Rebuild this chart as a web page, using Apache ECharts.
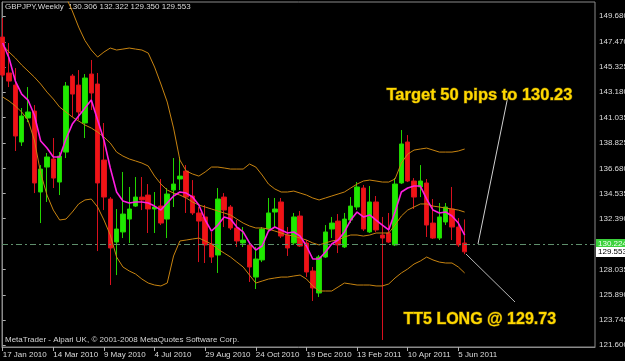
<!DOCTYPE html>
<html><head><meta charset="utf-8">
<script src="https://cdn.jsdelivr.net/npm/echarts@6/dist/echarts.min.js"></script>
<style>html,body{margin:0;padding:0;background:#000;}#c{width:625px;height:361px;}</style>
</head><body><div id="c"></div>
<script>
// ---- data ----
const dates = ['17 Jan 2010','24 Jan 2010','31 Jan 2010','7 Feb 2010','14 Feb 2010','21 Feb 2010','28 Feb 2010','7 Mar 2010','14 Mar 2010','21 Mar 2010','28 Mar 2010','4 Apr 2010','11 Apr 2010','18 Apr 2010','25 Apr 2010','2 May 2010','9 May 2010','16 May 2010','23 May 2010','30 May 2010','6 Jun 2010','13 Jun 2010','20 Jun 2010','27 Jun 2010','4 Jul 2010','11 Jul 2010','18 Jul 2010','25 Jul 2010','1 Aug 2010','8 Aug 2010','15 Aug 2010','22 Aug 2010','29 Aug 2010','5 Sep 2010','12 Sep 2010','19 Sep 2010','26 Sep 2010','3 Oct 2010','10 Oct 2010','17 Oct 2010','24 Oct 2010','31 Oct 2010','7 Nov 2010','14 Nov 2010','21 Nov 2010','28 Nov 2010','5 Dec 2010','12 Dec 2010','19 Dec 2010','26 Dec 2010','2 Jan 2011','9 Jan 2011','16 Jan 2011','23 Jan 2011','30 Jan 2011','6 Feb 2011','13 Feb 2011','20 Feb 2011','27 Feb 2011','6 Mar 2011','13 Mar 2011','20 Mar 2011','27 Mar 2011','3 Apr 2011','10 Apr 2011','17 Apr 2011','24 Apr 2011','1 May 2011','8 May 2011','15 May 2011','22 May 2011','29 May 2011','5 Jun 2011','12 Jun 2011'];
const opens  = [147.89,144.82,143.79,138.93,140.98,141.57,134.66,136.79,137.48,135.51,138.07,144.56,143.79,140.55,144.73,143.88,137.39,134.06,130.39,131.25,132.35,133.46,134.23,134.40,133.21,133.46,132.35,134.83,135.77,136.45,134.32,132.87,132.53,130.22,129.28,134.23,133.38,131.59,130.31,130.14,127.40,128.86,131.50,132.95,133.81,130.99,130.31,132.61,130.31,127.92,126.04,129.11,131.50,132.18,129.97,132.27,133.38,135.00,131.25,133.81,130.99,131.16,130.14,135.43,138.93,135.60,135.09,135.43,132.01,130.73,132.10,133.21,131.67,130.306];
const highs  = [149.51,147.38,145.24,141.83,143.62,142.08,136.96,137.99,139.27,138.07,144.05,144.73,145.07,144.73,145.93,144.82,140.55,134.23,133.21,136.37,135.09,135.94,135.94,135.34,134.66,135.77,135.00,137.56,137.65,136.96,135.68,133.38,133.55,131.25,135.00,134.57,133.55,132.27,131.67,130.31,129.97,131.67,134.15,134.15,134.15,131.67,132.87,133.04,130.56,128.26,129.28,131.84,132.53,132.78,132.87,134.23,135.51,135.26,135.17,134.32,132.53,132.87,135.85,139.95,139.52,135.85,136.96,135.77,134.06,133.72,133.72,135.09,132.44,132.322];
const lows   = [144.47,143.62,138.16,138.59,140.63,134.57,132.01,133.81,135.00,134.40,137.56,141.06,140.80,139.27,141.66,129.62,133.12,126.72,127.57,130.73,130.31,133.38,133.12,131.16,131.16,131.84,130.73,133.38,134.83,132.87,132.70,128.68,128.60,128.60,127.75,131.67,131.42,129.97,129.97,126.98,126.38,128.68,131.42,131.67,130.73,129.20,130.14,129.97,127.40,125.36,125.70,129.03,130.73,129.45,129.88,132.01,133.12,131.33,131.16,131.25,122.03,130.31,130.05,135.34,135.51,133.21,134.23,130.82,130.65,130.56,131.84,130.56,129.97,129.350];
const closes = [144.64,144.13,139.44,141.15,141.49,135.43,136.62,137.65,135.85,137.73,143.71,143.02,141.49,144.39,143.11,135.43,134.23,129.88,131.50,132.78,133.21,134.23,133.98,133.21,133.38,132.01,134.49,135.34,136.02,134.23,132.87,132.18,130.14,129.11,134.06,133.12,131.59,130.48,130.56,128.26,128.94,131.50,132.87,133.21,130.90,129.88,132.53,130.05,127.83,126.47,129.11,131.25,132.01,130.14,132.35,133.46,135.09,131.50,133.81,131.42,130.73,130.39,135.34,138.76,135.60,134.23,135.60,131.84,130.73,132.53,133.38,131.67,130.14,129.553];
const maValues = [147.38,146.10,144.13,143.02,142.51,141.23,139.01,138.41,137.65,137.65,139.18,140.46,141.15,141.83,142.51,140.80,139.10,136.71,134.66,133.89,133.72,133.81,133.81,133.72,133.46,133.12,133.72,134.32,134.66,134.57,134.23,133.55,132.27,131.33,131.84,132.53,132.35,131.67,131.25,130.31,129.71,130.05,131.33,131.67,131.42,131.16,131.25,130.90,130.05,128.94,128.94,129.54,130.22,130.56,131.25,132.27,132.95,132.53,132.70,132.27,131.84,131.42,132.95,134.66,135.00,135.17,135.17,134.06,133.12,132.87,132.95,132.61,132.01,130.99];
const bbUpper = [null,null,null,null,null,null,null,null,null,null,151.30,150.11,148.74,147.59,146.78,146.18,146.61,146.95,146.78,146.86,146.95,146.86,146.78,146.52,145.33,143.88,142.34,140.12,137.39,136.45,136.20,136.02,136.37,136.79,136.79,136.71,136.62,136.62,136.62,137.05,136.79,136.11,135.34,134.92,134.66,134.66,134.74,134.57,134.40,134.15,133.98,134.15,134.32,134.49,134.66,135.00,135.34,135.60,135.68,135.60,135.51,135.51,135.77,137.13,137.90,138.24,138.33,138.41,138.24,138.07,138.07,138.07,138.16,138.33];
const bbMiddle = [147.21,146.61,146.10,145.50,144.99,144.47,143.88,143.19,142.60,141.91,141.49,141.06,140.72,140.38,140.12,139.78,139.35,138.84,138.07,137.73,137.48,137.31,137.13,136.88,136.02,135.34,134.83,134.57,134.40,134.15,133.81,133.55,133.38,133.21,133.04,132.87,132.70,132.35,132.01,131.76,131.59,131.59,131.50,131.33,131.16,130.99,130.90,130.73,130.56,130.31,130.14,130.31,130.48,130.56,130.82,130.99,130.99,130.90,130.99,131.16,131.16,131.16,131.84,132.61,133.12,133.38,133.64,133.64,133.46,133.38,133.29,133.21,133.12,132.95];
const bbLower = [142.77,142.43,142.00,141.49,140.80,139.10,136.28,134.40,133.12,132.27,132.35,132.95,133.64,133.98,134.06,133.38,132.27,130.99,129.11,128.26,127.92,127.66,127.23,126.89,126.72,126.64,126.89,129.20,130.48,130.56,130.65,130.73,130.48,130.22,129.79,129.45,129.11,128.68,128.26,127.57,126.89,127.06,127.23,127.32,127.40,127.40,127.49,127.57,127.23,126.64,126.21,126.21,126.21,126.55,126.89,126.81,126.72,126.72,126.72,126.64,126.64,126.81,127.32,127.75,128.09,128.51,128.77,129.11,128.86,128.68,128.60,128.60,128.26,127.75];
const yTickLabels = ['149.680','147.470','145.325','143.180','141.035','138.825','136.680','134.535','132.390','128.035','125.890','123.745','121.600'];
const xLabelBars = [0,8,16,24,32,40,48,56,64,72];
const levelPrice = 130.224;
const bidPrice = 129.553;
const targetLine = [[75.11,130.22],[79.85,142.85]];
const entryLine = [[73.21,129.37],[80.96,125.27]];
const headerText = 'GBPJPY,Weekly  130.306 132.322 129.350 129.553';
const targetText = 'Target 50 pips to 130.23';
const entryText = 'TT5 LONG @ 129.73';
const footerText = 'MetaTrader - Alpari UK, \u00A9 2001-2008 MetaQuotes Software Corp.';

// ---- chart ----
const FONT = "'Liberation Sans',Arial,sans-serif";
const candleData = opens.map((o, i) => [i, o, closes[i], lows[i], highs[i]]);
const toXY = arr => arr.map((v, i) => [i, v]);
const boxLabel = (txt, bg, fg) => ({show: true, position: 'end', distance: 1, formatter: txt, backgroundColor: bg, color: fg,
  opacity: 1, padding: [1, 2, 1, 2], fontSize: 8, lineHeight: 8, fontFamily: FONT});
const chart = echarts.init(document.getElementById('c'), null, {renderer: 'canvas'});
chart.setOption({
  backgroundColor: '#000',
  animation: false,
  grid: {left: 2, top: 2, right: 30, bottom: 14, outerBoundsMode: 'none', containLabel: false,
    show: true, borderColor: '#8a8a8a', borderWidth: 1, backgroundColor: '#000'},
  xAxis: {
    type: 'value', min: -0.11, max: 93.6,
    splitLine: {show: false},
    axisLine: {show: true, lineStyle: {color: '#8a8a8a'}},
    axisTick: {show: true, length: 4, lineStyle: {color: '#b0b0b0'}, customValues: xLabelBars},
    axisLabel: {customValues: xLabelBars, align: 'left', margin: 4, color: '#dcdcdc', fontSize: 8, fontFamily: FONT,
      showMinLabel: true, hideOverlap: false, formatter: v => dates[Math.round(v)] || ''}
  },
  yAxis: {
    type: 'value', position: 'right', min: 121.43, max: 150.88, scale: true,
    splitLine: {show: false},
    axisLine: {show: true, lineStyle: {color: '#8a8a8a'}},
    axisTick: {show: true, length: 3, lineStyle: {color: '#b0b0b0'}, customValues: yTickLabels.map(Number)},
    axisLabel: {customValues: yTickLabels.map(Number), margin: 4, color: '#dcdcdc', fontSize: 8, fontFamily: FONT,
      formatter: v => { const s = yTickLabels.find(t => Math.abs(Number(t) - v) < 0.01); return s || ''; }}
  },
  series: [
    {
      type: 'candlestick', data: candleData, encode: {x: 0, y: [1, 2, 3, 4]}, barWidth: 5,
      itemStyle: {color: '#1eea00', color0: '#f01414', borderColor: '#22d400', borderColor0: '#d8101e', borderWidth: 1},
      z: 2,
      markLine: {
        symbol: 'none', silent: true, animation: false,
        data: [{yAxis: levelPrice, lineStyle: {color: '#5f8f6c', type: [6, 3, 2, 3], width: 1},
                label: boxLabel('130.224', '#3cd23c', '#f4fff4')}]
      }
    },
    {type: 'line', data: toXY(bbUpper), showSymbol: false, connectNulls: false, lineStyle: {color: '#c88410', width: 1}, z: 3},
    {type: 'line', data: toXY(bbMiddle), showSymbol: false, lineStyle: {color: '#c88410', width: 1}, z: 3},
    {type: 'line', data: toXY(bbLower), showSymbol: false, lineStyle: {color: '#c88410', width: 1}, z: 3},
    {type: 'line', data: toXY(maValues), showSymbol: false, lineStyle: {color: '#ff1ee0', width: 1.6}, z: 4,
      markLine: {symbol: 'none', silent: true, animation: false,
        data: [{yAxis: bidPrice, lineStyle: {width: 1, color: 'rgba(0,0,0,0)'}, label: boxLabel('129.553', '#ffffff', '#000000')}]}},
    {type: 'line', data: targetLine, showSymbol: false, lineStyle: {color: '#d0d0d0', width: 1}, z: 5},
    {type: 'line', data: entryLine, showSymbol: false, lineStyle: {color: '#b8b8b8', width: 1}, z: 5}
  ],
  graphic: [
    {type: 'text', left: 5, top: 3, style: {text: headerText, font: "8px " + FONT, fill: '#dcdcdc'}},
    {type: 'text', left: 5, top: 336, style: {text: footerText, font: "8px " + FONT, fill: '#d4d4d4'}},
    {type: 'text', left: 386, top: 86, z: 10, style: {text: targetText, font: "bold 16.5px 'Liberation Sans',Arial,sans-serif", fill: '#ffd800', stroke: '#6e5a00', lineWidth: 1}},
    {type: 'text', left: 403, top: 311, z: 10, style: {text: entryText, font: "bold 16px 'Liberation Sans',Arial,sans-serif", fill: '#ffd800', stroke: '#6e5a00', lineWidth: 1}}
  ]
});
</script></body></html>
